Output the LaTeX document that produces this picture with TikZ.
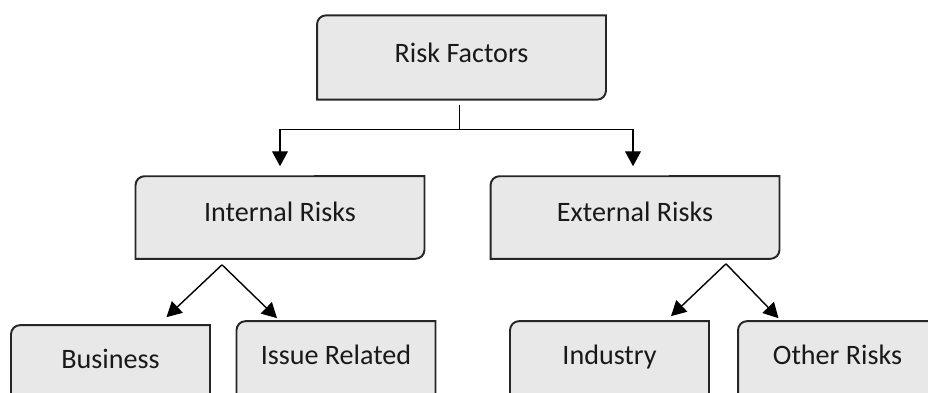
\documentclass[tikz,border=0pt]{standalone}
\usepackage{fontspec}
\setmainfont{Carlito}
\usetikzlibrary{arrows.meta,calc,backgrounds}
\definecolor{boxgray}{HTML}{E8E8E8}
\definecolor{edgegray}{HTML}{262626}

\begin{document}
\begin{tikzpicture}[x=0.02cm,y=-0.02cm,
    riskbox/.style={inner sep=0pt,outer sep=0pt,text=black!90,
      font=\fontsize{16pt}{19pt}\selectfont},
    topbox/.style={riskbox,minimum width=5.78cm,text height=27pt,text depth=21pt},
    midbox/.style={riskbox,minimum width=5.78cm,text height=25.5pt,text depth=21.5pt},
    lowbox/.style={riskbox,minimum width=3.98cm,text height=24.4pt,text depth=23.8pt},
    boxline/.style={line width=1.1pt,draw=edgegray,fill=boxgray},
    link/.style={line width=0.8pt,draw=black},
    arrow/.style={link,-{Triangle[width=9pt,length=8.5pt]}}]
  \useasboundingbox (0,0) rectangle (928,392);
  \clip (0,0) rectangle (928,392);

  % boxes
  \node[topbox] (factors) at (461.5,57.5) {Risk Factors};
  \node[midbox] (internal) at (280,217.5) {Internal Risks};
  \node[midbox] (external) at (635,217.5) {External Risks};
  \node[lowbox] (business) at (110.5,367.5) {Business};
  \node[lowbox] (issue) at (336,363.5) {Issue Related};
  \node[lowbox] (industry) at (609.5,363.5) {Industry};
  \node[lowbox] (other) at (837.5,363.5) {Other Risks};

  \begin{scope}[on background layer]
    \foreach \n in {factors,internal,external,business,issue,industry,other}
      \draw[boxline] (\n.south west) -- ($(\n.north west)+(0,9)$)
        arc[start angle=180,end angle=90,radius=0.18cm] -- (\n.north east)
        -- ($(\n.south east)+(0,-9)$)
        arc[start angle=0,end angle=-90,radius=0.18cm] -- cycle;
  \end{scope}

  % connectors
  \coordinate (split) at ($(factors.south)+(-2,30)$);
  \draw[link,shorten <=0.1cm] ($(factors.south)+(-2,0)$) -- (split);
  \draw[arrow] (split) -| ($(internal.north)+(0,-10)$);
  \draw[arrow] (split) -| ($(external.north)+(-2,-10)$);

  \coordinate (ifork) at ($(internal.south)+(-58,6)$);
  \draw[arrow] (ifork) -- ($(business.north)+(56,-8)$);
  \draw[arrow] (ifork) -- ($(issue.north)+(-59,-3)$);

  \coordinate (efork) at ($(external.south)+(91,5)$);
  \draw[arrow] (efork) -- ($(industry.north)+(61.5,-5)$);
  \draw[arrow] (efork) -- ($(other.north)+(-59,-3)$);
\end{tikzpicture}
\end{document}
